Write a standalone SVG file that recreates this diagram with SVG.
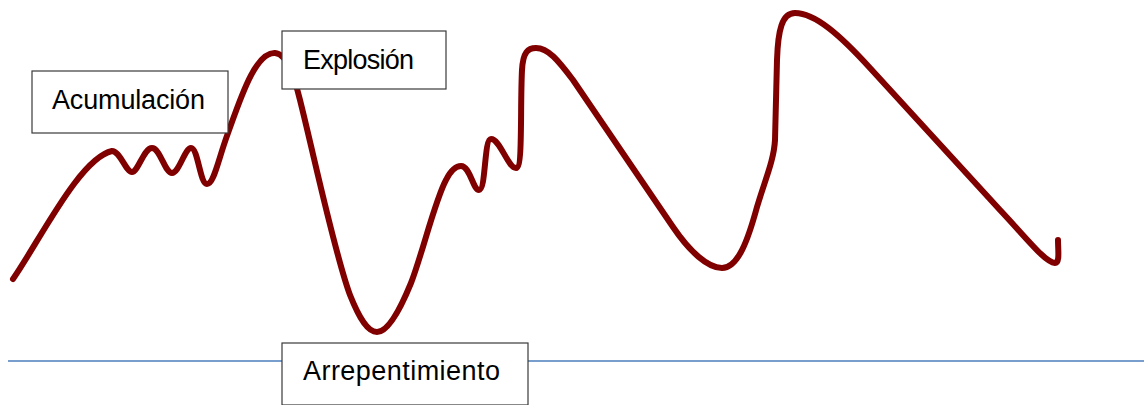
<svg xmlns="http://www.w3.org/2000/svg" width="1144" height="405" viewBox="0 0 1144 405">
<style>
.curve{fill:none;stroke:#800000;stroke-width:6;stroke-linecap:round;stroke-linejoin:round}
.axis{stroke:#4a7ebb;stroke-width:1.5}
.box{fill:#ffffff;stroke:#3a3a3a;stroke-width:1.2}
.lbl{font-family:"Liberation Sans",Arial,sans-serif;font-size:27px;fill:#000000}
</style>
<g id="connectors">
<line class="axis" x1="8" y1="361" x2="1144" y2="361"/>
<path class="curve" d="M13 279 C40 240,80 158,112 151 C120 151,126 172,132 172 C138 172,144 148,152 148 C160 148,165 173,172 173 C179 173,185 148,191 148 C198 148,200 184,207 184 C214 184,218 160,228 133 C240 100,255 52,275 53 C288 54,295 80,300 100 C315 160,335 255,350 295 C360 320,368 332,377 332 C388 332,400 310,411 283 C422 255,435 200,446 180 C450 172,455 166,461 166 C470 166,473 190,479 190 C486 190,484 139,491 139 C500 139,508 168,516 168 C523 168,520 110,522 70 C523 52,528 48,536 48 C548 48,558 60,573 80 L673 227 C690 252,708 268,722 268 C738 268,748 240,757 207 C765 180,774 160,775 140 L777 60 C778 30,782 13,795 13 C815 13,840 35,870 68 L1000 210 C1030 242,1045 262,1055 263 C1060 263,1058 250,1058 240"/>
</g>
<g id="acumulacion">
<rect class="box" x="32" y="71" width="196" height="62"/>
<text class="lbl" x="52" y="109" textLength="153">Acumulación</text>
</g>
<g id="explosion">
<rect class="box" x="282" y="31" width="164" height="58"/>
<text class="lbl" x="303" y="69" textLength="111">Explosión</text>
</g>
<g id="arrepentimiento">
<rect class="box" x="282" y="343" width="246" height="62"/>
<text class="lbl" x="303" y="380" textLength="197">Arrepentimiento</text>
</g>
</svg>
